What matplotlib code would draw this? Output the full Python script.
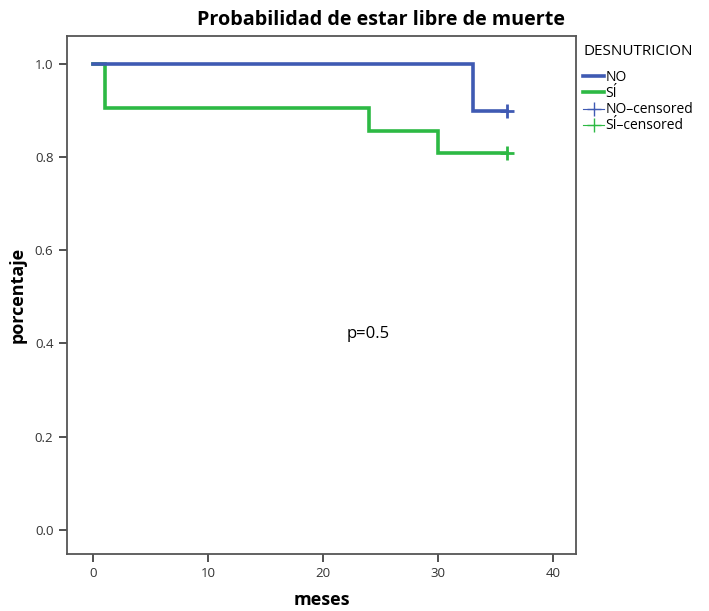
import matplotlib.pyplot as plt
from matplotlib.lines import Line2D

# Kaplan-Meier step data
no_t = [0, 33, 36]
no_s = [1.0, 0.9, 0.9]
si_t = [0, 1, 24, 30, 36]
si_s = [1.0, 0.905, 0.857, 0.81, 0.81]
no_cens_t = [36]
no_cens_s = [0.9]
si_cens_t = [36]
si_cens_s = [0.81]

xticks = [0, 10, 20, 30, 40]
yticks = [0.0, 0.2, 0.4, 0.6, 0.8, 1.0]

blue = '#3f5ab3'
green = '#2db944'

plt.rcParams['font.family'] = ['Open Sans', 'DejaVu Sans']

fig = plt.figure(figsize=(7.09, 6.11), dpi=100)
ax = fig.add_axes([0.094, 0.094, 0.719, 0.847])

ax.step(no_t, no_s, where='post', color=blue, lw=2.6, solid_joinstyle='miter', zorder=3)
ax.step(si_t, si_s, where='post', color=green, lw=2.6, solid_joinstyle='miter', zorder=2)
ax.plot(no_cens_t, no_cens_s, ls='none', marker='+', ms=10, mew=2, color=blue, zorder=4)
ax.plot(si_cens_t, si_cens_s, ls='none', marker='+', ms=10, mew=2, color=green, zorder=4)

ax.set_xlim(-2.3, 42)
ax.set_ylim(-0.051, 1.06)
ax.set_xticks(xticks)
ax.set_xticklabels([str(v) for v in xticks])
ax.set_yticks(yticks)
ax.set_yticklabels(['%.1f' % v for v in yticks])
ax.tick_params(labelsize=9.5, colors='#333333', length=6, width=1.2)
for s in ax.spines.values():
    s.set_color('#555555')
    s.set_linewidth(1.3)

ax.set_xlabel('meses', fontsize=13, fontweight='bold', labelpad=8)
ax.set_ylabel('porcentaje', fontsize=13, fontweight='bold', labelpad=6)
ax.text(23.9, 0.42, 'p=0.5', fontsize=12, ha='center', va='center')

fig.text(0.537, 0.968, 'Probabilidad de estar libre de muerte', fontsize=14.2,
         fontweight='bold', ha='center', va='center')

handles = [
    Line2D([], [], color=blue, lw=2.6),
    Line2D([], [], color=green, lw=2.6),
    Line2D([], [], color=blue, lw=0.8, marker='+', ms=10),
    Line2D([], [], color=green, lw=0.8, marker='+', ms=10),
]
leg = fig.legend(handles, ['NO', 'SÍ', 'NO–censored', 'SÍ–censored'],
                 title='DESNUTRICION', loc='upper left', bbox_to_anchor=(0.815, 0.937),
                 frameon=False, fontsize=10, title_fontsize=11, handlelength=1.5,
                 handletextpad=0.1, labelspacing=0.08, borderaxespad=0)
leg._legend_box.align = 'left'
leg._legend_box.sep = 8

fig.savefig('out.png', dpi=100)
